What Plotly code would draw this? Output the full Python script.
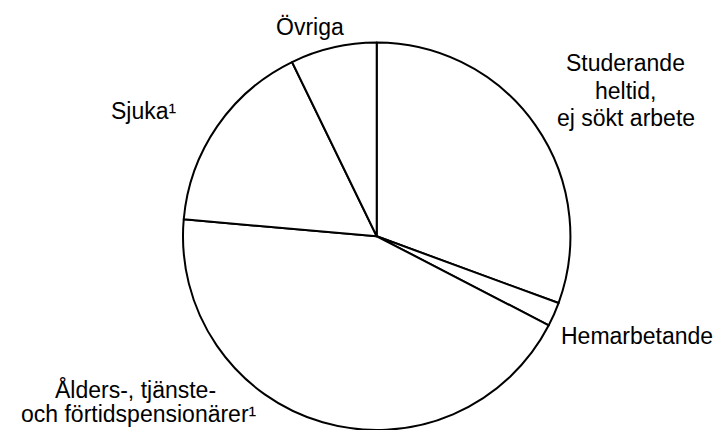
import plotly.graph_objects as go

categories = ["Studerande heltid, ej sökt arbete", "Hemarbetande",
              "Ålders-, tjänste- och förtidspensionärer", "Sjuka", "Övriga"]
values = [30.6, 2.0, 43.8, 16.4, 7.2]

# label lines (text) and their pixel anchor positions
label_lines = ["Övriga", "Studerande", "heltid,", "ej sökt arbete", "Hemarbetande",
               "Sjuka¹", "Ålders-, tjänste-", "och förtidspensionärer¹"]
label_px = [(310, 27), (625, 63), (625, 91), (626, 118), (637, 336),
            (144, 111), (135, 389), (139, 414)]

W, H = 722, 430
FONT = "Liberation Sans, Arial, sans-serif"

fig = go.Figure(go.Pie(
    labels=categories, values=values, sort=False, direction="clockwise",
    rotation=0, textinfo="none", hoverinfo="label+percent",
    marker=dict(colors=["white"] * len(values), line=dict(color="black", width=2)),
    domain=dict(x=[0.2530, 0.7905], y=[0.0, 0.901]),
))

for txt, (px, py) in zip(label_lines, label_px):
    fig.add_annotation(x=px / W, y=1 - py / H, xref="paper", yref="paper",
                       text=txt, showarrow=False, xanchor="center", yanchor="middle",
                       font=dict(family=FONT, size=23, color="black"))

fig.update_layout(width=W, height=H, margin=dict(l=0, r=0, t=0, b=0),
                  paper_bgcolor="white", plot_bgcolor="white", showlegend=False)
fig.write_html("out.html", config={"displayModeBar": False},
               post_script="document.body.style.margin='0px';document.body.style.overflow='hidden';")
